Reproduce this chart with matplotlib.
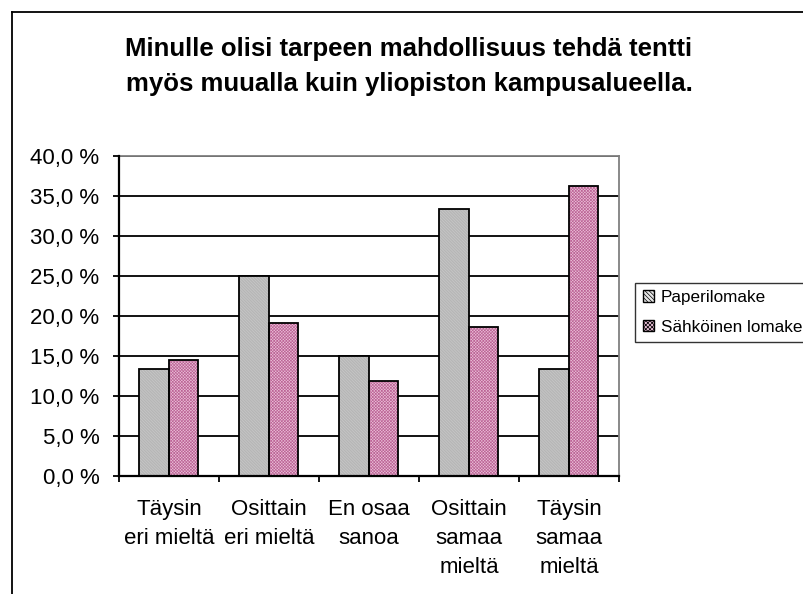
import matplotlib
matplotlib.use("Agg")
import matplotlib.pyplot as plt
from matplotlib.lines import Line2D
from matplotlib.ticker import FuncFormatter
import numpy as np

plt.rcParams['font.family'] = ['Liberation Sans', 'DejaVu Sans']
plt.rcParams['hatch.linewidth'] = 0.5

title = "Minulle olisi tarpeen mahdollisuus tehdä tentti\nmyös muualla kuin yliopiston kampusalueella."
categories = ["Täysin\neri mieltä", "Osittain\neri mieltä", "En osaa\nsanoa",
              "Osittain\nsamaa\nmieltä", "Täysin\nsamaa\nmieltä"]
series_names = ["Paperilomake", "Sähköinen lomake"]
paperilomake = [13.4, 25.0, 15.0, 33.3, 13.4]
sahkoinen = [14.5, 19.1, 11.8, 18.6, 36.2]
yticks = [0, 5, 10, 15, 20, 25, 30, 35, 40]

W, H = 804, 594
fig = plt.figure(figsize=(W / 100, H / 100), dpi=100)
fig.patch.set_facecolor('white')

# outer chart frame (left and top edges visible)
fig.add_artist(Line2D([12.5 / W, 12.5 / W], [0, 1 - 12 / H], transform=fig.transFigure,
                      color='black', lw=1.3))
fig.add_artist(Line2D([12.5 / W, 1], [1 - 12 / H, 1 - 12 / H], transform=fig.transFigure,
                      color='black', lw=1.3))

ax = fig.add_axes([119 / W, (H - 475.7) / H, 500 / W, 320 / H])
x = np.arange(len(categories))
bw = 0.295

styles = [
    dict(face='#E6E6E6', hatch_col='#A6A6A6', hatch='\\' * 22),
    dict(face='#EBC0D8', hatch_col='#BC6496', hatch='x' * 11),
]
for vals, off, st in [(paperilomake, -bw / 2, styles[0]), (sahkoinen, bw / 2, styles[1])]:
    ax.bar(x + off, vals, width=bw, color=st['face'], edgecolor=st['hatch_col'],
           hatch=st['hatch'], linewidth=0, zorder=3)
    ax.bar(x + off, vals, width=bw, fill=False, edgecolor='black', linewidth=1.3, zorder=4)

ax.set_xlim(-0.5, len(categories) - 0.5)
ax.set_ylim(0, 40)
ax.set_yticks(yticks)
ax.yaxis.set_major_formatter(FuncFormatter(lambda v, p: f"{v:.1f}".replace('.', ',') + " %"))
ax.yaxis.grid(True, color='black', linewidth=1.3, zorder=1)
ax.set_axisbelow(True)

ax.set_xticks(np.arange(len(categories) + 1) - 0.5)
ax.set_xticklabels([])
ax.set_xticks(x, minor=True)
ax.set_xticklabels(categories, minor=True, fontsize=16, linespacing=1.52, va='top')
ax.tick_params(axis='x', which='major', length=4, width=1.3, direction='out')
ax.tick_params(axis='x', which='minor', length=0, pad=16.5)
ax.tick_params(axis='y', length=4, width=1.3, direction='out', labelsize=16, pad=10)

for s in ['left', 'bottom']:
    ax.spines[s].set_linewidth(1.6)
    ax.spines[s].set_color('black')
for s in ['top', 'right']:
    ax.spines[s].set_linewidth(1.3)
    ax.spines[s].set_color('#808080')
ax.spines['left'].set_zorder(5)
ax.spines['bottom'].set_zorder(5)

fig.text(409 / W, 1 - 66.5 / H, title, ha='center', va='center', fontsize=18.5,
         fontweight='bold', linespacing=1.55)

handles = [plt.Rectangle((0, 0), 1, 1, facecolor=styles[i]['face'], edgecolor='black',
                         hatch=styles[i]['hatch'][:8], linewidth=1.0) for i in range(2)]
leg = fig.legend(handles, series_names, loc='upper left',
                 bbox_to_anchor=(635 / W, 1 - 282.5 / H), fontsize=12.3,
                 frameon=True, fancybox=False, edgecolor='black',
                 handlelength=0.65, handleheight=0.65, handletextpad=0.4,
                 labelspacing=0.85, borderpad=0.45, borderaxespad=0)
leg.get_frame().set_linewidth(1.0)

fig.savefig('out.png', dpi=100)
